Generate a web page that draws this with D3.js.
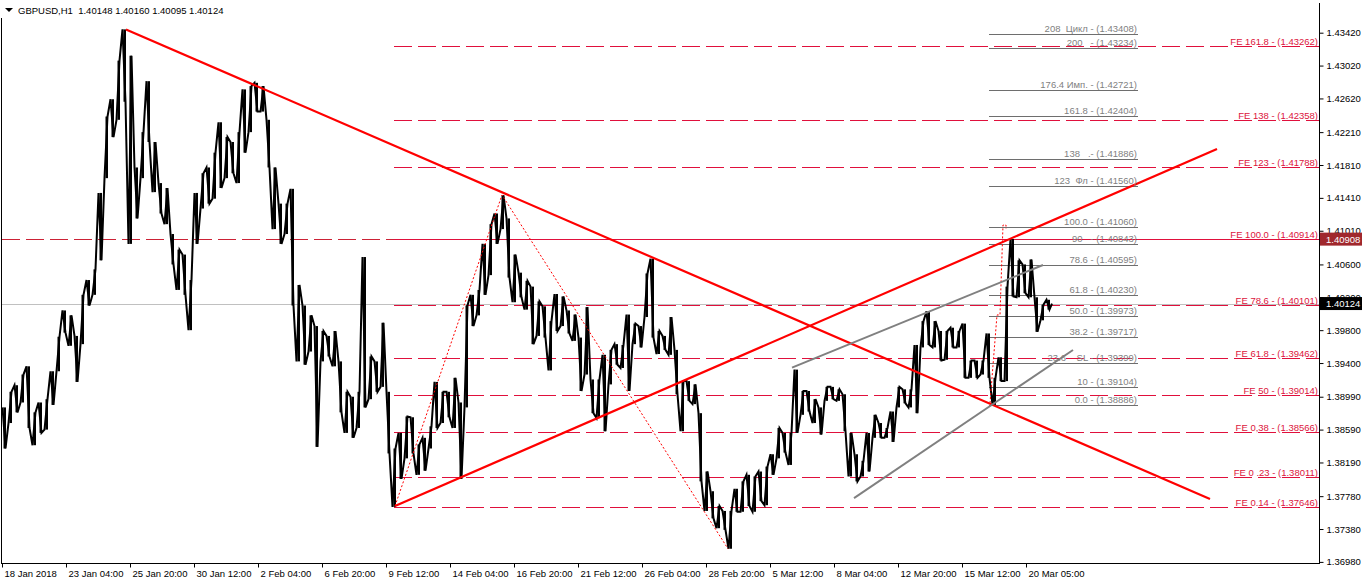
<!DOCTYPE html>
<html><head><meta charset="utf-8">
<script src="https://cdn.jsdelivr.net/npm/d3@7"></script>
<style>
body{margin:0;background:#fff}
svg{display:block}
text{font-family:"Liberation Sans",Arial,sans-serif}
</style>
</head><body>
<svg id="c" width="1362" height="584"></svg>
<script>
// ---------------- data ----------------
const titleText = "GBPUSD,H1  1.40148 1.40160 1.40095 1.40124";
const timeLabels = ["18 Jan 2018","23 Jan 04:00","25 Jan 20:00","30 Jan 12:00","2 Feb 04:00","6 Feb 20:00","9 Feb 12:00","14 Feb 04:00","16 Feb 20:00","21 Feb 12:00","26 Feb 04:00","28 Feb 20:00","5 Mar 12:00","8 Mar 04:00","12 Mar 20:00","15 Mar 12:00","20 Mar 05:00"];
const timeLabelBars = [0,64,128,192,256,320,384,448,512,576,640,704,768,832,896,960,1024];
const priceTicks = [1.43420,1.43020,1.42620,1.42210,1.41810,1.41410,1.41010,1.40600,1.40200,1.39800,1.39400,1.38990,1.38590,1.38190,1.37780,1.37380,1.36980];
const totalBars = 1317;
const bucketBars = 6;
// highs / lows of successive 6-hour groups
const highs = [1.3886,1.3905,1.3913,1.3926,1.3936,1.3880,1.3892,1.3896,1.3930,1.3972,
1.4004,1.3998,1.3973,1.4023,1.4041,1.4054,1.4147,1.4240,1.4261,1.4308,
1.4346,1.4314,1.4178,1.4221,1.4283,1.4209,1.4159,1.4153,1.4097,1.4078,
1.4072,1.4041,1.4147,1.4171,1.4178,1.4196,1.4233,1.4215,1.4209,1.4221,
1.4273,1.4277,1.4281,1.4277,1.4236,1.4178,1.4134,1.4134,1.4152,1.4035,
1.4010,1.3998,1.3985,1.3979,1.3973,1.3979,1.3942,1.3905,1.3899,1.3905,
1.4069,1.3948,1.3942,1.3989,1.3905,1.3836,1.3855,1.3875,1.3874,1.3841,
1.3849,1.3863,1.3917,1.3905,1.3905,1.3922,1.3892,1.4010,1.4023,1.4029,
1.4085,1.4109,1.4122,1.4144,1.4116,1.4072,1.4050,1.4040,1.4033,1.4015,
1.4009,1.3991,1.4024,1.4021,1.4004,1.3999,1.3971,1.4008,1.3920,1.3920,
1.3950,1.3956,1.3963,1.3962,1.3999,1.3988,1.3985,1.4049,1.4067,1.3979,
1.3973,1.3996,1.3956,1.3918,1.3918,1.3914,1.3879,1.3808,1.3784,1.3766,
1.3760,1.3760,1.3787,1.3796,1.3804,1.3802,1.3808,1.3814,1.3829,1.3861,
1.3855,1.3855,1.3932,1.3906,1.3906,1.3896,1.3886,1.3911,1.3911,1.3908,
1.3902,1.3855,1.3829,1.3821,1.3855,1.3877,1.3867,1.3861,1.3881,1.3911,
1.3908,1.3908,1.3962,1.3991,1.4003,1.3991,1.3979,1.3979,1.3983,1.3979,
1.3988,1.3943,1.3943,1.3943,1.3976,1.3922,1.3947,1.4033,1.4091,1.4065,
1.4060,1.4066,1.4020,1.4011,1.4017];
const lows = [1.3836,1.3867,1.3880,1.3892,1.3861,1.3840,1.3855,1.3859,1.3889,1.3930,
1.3977,1.3961,1.3917,1.3963,1.4010,1.4023,1.4065,1.4165,1.4215,1.4236,
1.4258,1.4085,1.4116,1.4165,1.4209,1.4148,1.4122,1.4109,1.4060,1.4029,
1.4023,1.3980,1.4085,1.4128,1.4134,1.4140,1.4153,1.4165,1.4171,1.4159,
1.4196,1.4221,1.4246,1.4246,1.4178,1.4103,1.4085,1.4097,1.4010,1.3942,
1.3938,1.3954,1.3838,1.3942,1.3948,1.3936,1.3880,1.3855,1.3849,1.3861,
1.3886,1.3896,1.3905,1.3911,1.3830,1.3765,1.3799,1.3824,1.3830,1.3804,
1.3809,1.3836,1.3861,1.3867,1.3874,1.3861,1.3799,1.3886,1.3985,1.3998,
1.4023,1.4047,1.4085,1.4103,1.4044,1.4014,1.4020,1.4005,1.3963,1.3973,
1.3971,1.3931,1.3979,1.3985,1.3976,1.3967,1.3906,1.3926,1.3879,1.3873,
1.3857,1.3914,1.3938,1.3934,1.3906,1.3963,1.3959,1.3996,1.3971,1.3951,
1.3956,1.3950,1.3902,1.3857,1.3894,1.3890,1.3796,1.3760,1.3751,1.3739,
1.3737,1.3714,1.3759,1.3759,1.3766,1.3759,1.3772,1.3767,1.3804,1.3824,
1.3831,1.3816,1.3855,1.3877,1.3881,1.3867,1.3853,1.3894,1.3896,1.3894,
1.3857,1.3802,1.3796,1.3802,1.3808,1.3849,1.3849,1.3849,1.3844,1.3886,
1.3891,1.3886,1.3879,1.3959,1.3962,1.3959,1.3943,1.3944,1.3959,1.3959,
1.3922,1.3922,1.3922,1.3926,1.3922,1.3889,1.3918,1.3918,1.4021,1.4020,
1.4025,1.4020,1.3978,1.3992,1.4005];
const lastClose = 1.40124;
const markedLevel = 1.40908;

const fibLevels = [1.43408,1.43234,1.42721,1.42404,1.41886,1.41560,1.41060,1.40843,1.40595,1.40230,1.39973,1.39717,1.39399,1.39104,1.38886];
const fibLabels = ["208  Цикл - (1.43408)","200   - (1.43234)","176.4 Имп. - (1.42721)","161.8 - (1.42404)","138   .- (1.41886)","123  Фл - (1.41560)","100.0 - (1.41060)","90   - (1.40843)","78.6 - (1.40595)","61.8 - (1.40230)","50.0 - (1.39973)","38.2 - (1.39717)","23.6    SL - (1.39399)","10 - (1.39104)","0.0 - (1.38886)"];
const fibBars = [987,1136];

const feLevels = [1.43262,1.42358,1.41788,1.40914,1.40101,1.39462,1.39014,1.38566,1.38011,1.37646];
const feLabels = ["FE 161.8 - (1.43262)","FE 138 - (1.42358)","FE 123 - (1.41788)","FE 100.0 - (1.40914)","FE 78.6 - (1.40101)","FE 61.8 - (1.39462)","FE 50 - (1.39014)","FE 0,38 - (1.38566)","FE 0 .23 - (1.38011)","FE 0.14 - (1.37646)"];
const feSolid = [false,false,false,true,false,false,false,false,false,false];
const feStartBar = 392;

const trendDown = [[124,1.4346],[1208,1.37745]];
const trendUp = [[393,1.3766],[1215,1.42005]];
const channelUpper = [[790,1.39345],[1041,1.40593]];
const channelLower = [[852,1.37757],[1071,1.39559]];
const waveDotted = [[393,1.3766],[500,1.41445],[726,1.3714]];
const markerDotted = [[988,1.38913],[995,1.39985],[998,1.39985],[1001,1.41080],[1004,1.41080],[1004,1.41031]];

// ---------------- drawing ----------------
const svg = d3.select("#c");
const W = 1362, H = 584;
const plotL = 2, plotR = 1319, plotB = 563;
const x = d3.scaleLinear().domain([0,totalBars]).range([plotL,plotR]);
const y = d3.scaleLinear().domain([1.43420,1.36980]).range([32.7,561.9]);

svg.append("rect").attr("width",W).attr("height",H).attr("fill","#fff");

const clip = svg.append("defs").append("clipPath").attr("id","pc");
clip.append("rect").attr("x",plotL).attr("y",0).attr("width",plotR-plotL).attr("height",plotB);
const g = svg.append("g").attr("clip-path","url(#pc)");

// horizontal price lines
g.append("line").attr("x1",plotL).attr("x2",plotR).attr("y1",Math.round(y(lastClose))+0.5).attr("y2",Math.round(y(lastClose))+0.5)
  .attr("stroke","#c0c0c0").attr("stroke-width",1);
g.append("line").attr("x1",plotL).attr("x2",plotR).attr("y1",Math.round(y(markedLevel))+0.5).attr("y2",Math.round(y(markedLevel))+0.5)
  .attr("stroke","#cc2236").attr("stroke-width",1).attr("stroke-dasharray","18,6");

// FE lines
feLevels.forEach((v,i)=>{
  const yy = Math.round(y(v))+0.5;
  g.append("line").attr("x1",x(feStartBar)).attr("x2",plotR).attr("y1",yy).attr("y2",yy)
   .attr("stroke","#e0103c").attr("stroke-width",1).attr("stroke-dasharray",feSolid[i]?null:"18,6");
});
// Fib lines
fibLevels.forEach(v=>{
  const yy = Math.round(y(v))+0.5;
  g.append("line").attr("x1",x(fibBars[0])).attr("x2",x(fibBars[1])).attr("y1",yy).attr("y2",yy)
   .attr("stroke","#6e6e6e").attr("stroke-width",1);
});

// price series: high-low bars plus zigzag path through them
g.selectAll("rect.hl").data(highs).join("rect").attr("class","hl")
  .attr("x",(d,i)=>x(i*bucketBars+1.5))
  .attr("width",2.5)
  .attr("y",d=>y(d))
  .attr("height",(d,i)=>Math.max(1,y(lows[i])-y(d)))
  .attr("fill","#000");
const pts = [];
highs.forEach((h,i)=>{
  const b = i*bucketBars;
  const a = i%2 ? [lows[i],h] : [h,lows[i]];
  pts.push([b+0.5,a[0]],[b+3.5,a[1]]);
});
pts.push([highs.length*bucketBars,lastClose]);
const line = d3.line().x(d=>x(d[0])).y(d=>y(d[1]));
g.append("path").attr("d",line(pts)).attr("fill","none").attr("stroke","#000").attr("stroke-width",2).attr("stroke-linejoin","miter");

// dotted wave lines
g.append("path").attr("d",line(waveDotted)).attr("fill","none").attr("stroke","#ff0000").attr("stroke-width",1).attr("stroke-dasharray","2,2");
g.append("path").attr("d",line(markerDotted)).attr("fill","none").attr("stroke","#ff0000").attr("stroke-width",1).attr("stroke-dasharray","2,2");

// trend lines
[trendDown,trendUp].forEach(t=>g.append("path").attr("d",line(t)).attr("stroke","#ff0000").attr("stroke-width",2.2).attr("fill","none"));
[channelUpper,channelLower].forEach(t=>g.append("path").attr("d",line(t)).attr("stroke","#808080").attr("stroke-width",2).attr("fill","none"));

// labels
fibLevels.forEach((v,i)=>{
  g.append("text").attr("x",x(fibBars[1])-1).attr("y",Math.round(y(v))-2.5).attr("text-anchor","end")
   .attr("font-size",9.5).attr("fill","#7f7f7f").style("white-space","pre").text(fibLabels[i]);
});
feLevels.forEach((v,i)=>{
  g.append("text").attr("x",plotR-1).attr("y",Math.round(y(v))-1.5).attr("text-anchor","end")
   .attr("font-size",9.5).attr("fill","#dc143c").style("white-space","pre").text(feLabels[i]);
});

// frame
svg.append("line").attr("x1",1.5).attr("x2",1.5).attr("y1",18).attr("y2",plotB).attr("stroke","#000");
svg.append("line").attr("x1",1).attr("x2",plotR).attr("y1",plotB+0.5).attr("y2",plotB+0.5).attr("stroke","#000");
svg.append("line").attr("x1",plotR+0.5).attr("x2",plotR+0.5).attr("y1",3).attr("y2",plotB+1).attr("stroke","#000");

// axes
const yAxis = d3.axisRight(y).tickValues(priceTicks).tickFormat(d3.format(".5f")).tickSize(4).tickPadding(3);
const ya = svg.append("g").attr("transform",`translate(${plotR+0.5},0)`).call(yAxis);
ya.select(".domain").remove();
ya.selectAll("text").attr("font-size",9.5).attr("fill","#000").attr("font-family","Liberation Sans, Arial, sans-serif");
ya.selectAll("line").attr("stroke","#000");

const xAxis = d3.axisBottom(x).tickValues(timeLabelBars).tickFormat((d,i)=>timeLabels[i]).tickSize(4).tickPadding(3);
const xa = svg.append("g").attr("transform",`translate(0,${plotB+0.5})`).call(xAxis);
xa.select(".domain").remove();
xa.selectAll("text").attr("font-size",9.5).attr("fill","#000").attr("text-anchor","start").attr("dx",2).attr("font-family","Liberation Sans, Arial, sans-serif");
xa.selectAll("line").attr("stroke","#000");

// price boxes (drawn over the axis labels they cover, as in the terminal)
function priceBox(v,bg){
  const yy = y(v);
  svg.append("rect").attr("x",plotR+1).attr("y",yy-6.5).attr("width",W-plotR-1).attr("height",13).attr("fill",bg);
  svg.append("text").attr("x",plotR+7).attr("y",yy+3.5).attr("font-size",9.5).attr("fill","#fff").text(d3.format(".5f")(v));
}
priceBox(markedLevel,"#a0282d");
priceBox(lastClose,"#000");

// title
svg.append("path").attr("d","M5,8 L13,8 L9,12 Z").attr("fill","#000");
svg.append("text").attr("x",18).attr("y",14).attr("font-size",9.5).attr("fill","#000").style("white-space","pre").text(titleText);
</script>
</body></html>
